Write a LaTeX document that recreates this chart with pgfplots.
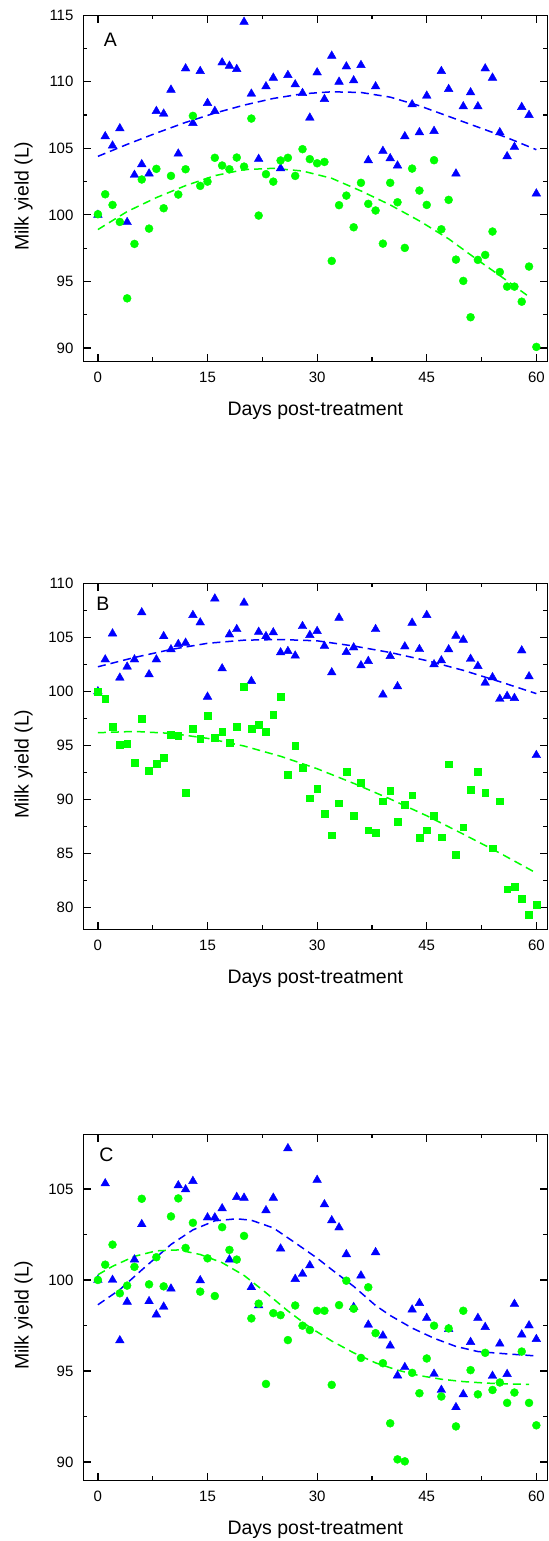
\documentclass[border=0pt]{standalone}
\usepackage{fontspec}
\setmainfont{Liberation Sans}
\usepackage{pgfplots}
\usepackage{pgfplotstable}
\pgfplotsset{compat=1.18}

\definecolor{cblue}{RGB}{0,0,255}
\definecolor{cgreen}{RGB}{0,255,0}

% day, blue series, green series
\pgfplotstableread{
day blue green
0 100.0 100.05
1 105.9 101.55
2 105.2 100.75
3 106.5 99.47
4 99.45 93.73
5 103.0 97.82
6 103.8 102.66
7 103.1 98.97
8 107.8 103.46
9 107.6 100.5
10 109.4 102.93
11 104.6 101.53
12 111.0 103.43
13 106.9 107.44
14 110.8 102.18
15 108.4 102.5
16 107.8 104.29
17 111.45 103.71
18 111.2 103.43
19 110.95 104.31
20 114.5 103.63
21 109.1 107.24
22 104.2 99.95
23 109.65 103.06
24 110.3 102.5
25 103.5 104.09
26 110.5 104.29
27 109.8 102.93
28 109.15 104.94
29 107.3 104.19
30 110.7 103.88
31 108.7 103.98
32 111.95 96.54
33 110.0 100.73
34 111.15 101.45
35 110.1 99.07
36 111.25 102.41
37 104.1 100.83
38 109.65 100.33
39 104.8 97.84
40 104.25 102.41
41 103.7 100.95
42 105.9 97.52
43 108.3 103.48
44 106.2 101.83
45 108.95 100.75
46 106.3 104.11
47 110.8 98.92
48 109.45 101.13
49 103.1 96.64
50 108.15 95.04
51 109.2 92.31
52 108.15 96.62
53 111.0 96.99
54 110.3 98.75
55 106.2 95.71
56 104.4 94.61
57 105.1 94.61
58 108.1 93.48
59 107.5 96.12
60 101.6 90.08
}\dataA

\pgfplotstableread{
day blue green
0 100.0 100.0
1 102.95 99.32
2 105.35 96.77
3 101.26 95.05
4 102.28 95.2
5 102.95 93.42
6 107.3 97.45
7 101.57 92.65
8 102.95 93.3
9 105.1 93.9
10 103.88 95.97
11 104.37 95.9
12 104.49 90.6
13 107.05 96.58
14 106.37 95.66
15 99.5 97.78
16 108.58 95.72
17 102.12 96.3
18 105.26 95.23
19 105.75 96.77
20 108.2 100.46
21 100.95 96.58
22 105.5 96.9
23 105.1 96.28
24 105.45 97.88
25 103.6 99.48
26 103.72 92.28
27 103.3 94.98
28 106.03 92.92
29 105.2 90.12
30 105.57 91.0
31 104.2 88.7
32 101.75 86.7
33 106.8 89.66
34 103.63 92.6
35 104.06 88.5
36 102.4 91.57
37 102.8 87.17
38 105.75 86.9
39 99.7 89.85
40 103.26 90.8
41 100.46 87.97
42 104.15 89.5
43 106.34 90.4
44 103.9 86.46
45 107.05 87.17
46 102.5 88.5
47 102.86 86.52
48 103.88 93.26
49 105.14 84.92
50 104.77 87.45
51 103.0 90.9
52 102.34 92.6
53 100.8 90.6
54 101.3 85.5
55 99.3 89.85
56 99.57 81.7
57 99.38 81.97
58 103.78 80.8
59 101.38 79.32
60 94.1 80.3
}\dataB

\pgfplotstableread{
day blue green
0 100.0 100.0
1 105.3 100.84
2 100.0 101.94
3 96.68 99.27
4 98.8 99.69
5 101.12 100.72
6 103.06 104.46
7 98.83 99.76
8 98.1 101.25
9 98.53 99.65
10 99.52 103.49
11 105.19 104.48
12 104.97 101.76
13 105.43 103.14
14 99.98 99.36
15 103.43 101.19
16 103.43 99.12
17 103.93 102.9
18 101.12 101.65
19 104.55 101.12
20 104.51 102.42
21 99.6 97.89
22 98.6 98.7
23 103.82 94.29
24 104.51 98.18
25 101.72 98.07
26 107.23 96.7
27 100.05 98.6
28 100.33 97.49
29 100.8 97.25
30 105.49 98.31
31 104.15 98.31
32 103.27 94.24
33 102.88 98.62
34 101.41 99.96
35 98.51 98.42
36 100.24 95.72
37 97.54 99.6
38 101.52 97.08
39 96.94 95.43
40 96.39 92.13
41 94.75 90.15
42 95.21 90.04
43 98.37 94.9
44 98.73 93.78
45 97.91 95.69
46 94.84 97.49
47 93.96 93.6
48 97.3 97.34
49 93.01 91.96
50 93.72 98.31
51 96.59 95.05
52 97.91 93.72
53 97.41 96.0
54 94.73 93.96
55 96.5 94.37
56 94.83 93.25
57 98.68 93.82
58 97.0 96.07
59 97.5 93.25
60 96.75 92.02
}\dataC

\pgfplotsset{
  panel/.style={
    scale only axis, width=232pt, height=173pt, anchor=south west,
    xmin=-2, xmax=61.5,
    xtick={0,15,30,45,60}, minor x tick num=1, minor y tick num=1,
    tick align=inside, tick pos=both,
    major tick length=3.75pt, minor tick length=2pt,
    axis line style={line width=0.65pt},
    every tick/.style={black, line width=0.6pt},
    /pgf/number format/assume math mode=true,
    ticklabel style={font=\fontsize{7.5}{9}\selectfont},
    label style={font=\fontsize{9.75}{11.5}\selectfont},
    xlabel={Days post-treatment}, ylabel={Milk yield (L)},
    xlabel style={at={(axis description cs:0.5,-0.158)}, anchor=base},
    ylabel style={at={(axis description cs:-0.1177,0.477)}, anchor=base},
    yticklabel style={xshift=-1.4pt},
    xticklabel style={yshift=-1.85pt},
  },
  tri/.style={only marks, mark=triangle*, mark size=2.5pt,
    mark options={draw=cblue, fill=cblue, line width=0.2pt}},
  dot/.style={only marks, mark=*, mark size=2pt,
    mark options={draw=cgreen, fill=cgreen, line width=0.2pt}},
  sq/.style={only marks, mark=square*, mark size=1.7pt,
    mark options={draw=cgreen, fill=cgreen, line width=0.2pt}},
  fit/.style={no marks, line width=0.75pt, dash pattern=on 4pt off 2.5pt},
}

\begin{document}
\begin{tikzpicture}
\useasboundingbox (0,0) rectangle (274pt,770.5pt);

% Panel A
\begin{axis}[panel, at={(41.65pt,589.85pt)},
  ymin=89, ymax=115, ytick={90,95,100,105,110,115}]
\addplot[tri] table[x=day, y=blue] {\dataA};
\addplot[dot] table[x=day, y=green] {\dataA};
\addplot[fit, cblue] coordinates {(0,104.4) (4,105.3) (8,106.15) (12,106.95)
  (16,107.65) (20,108.25) (24,108.75) (28,109.1) (32,109.25) (36,109.2)
  (40,108.85) (44,108.2) (48,107.4) (52,106.6) (56,105.8) (60,104.9)};
\addplot[fit, cgreen] coordinates {(0,98.9) (4,100.25) (8,101.3) (12,102.2)
  (16,102.95) (20,103.4) (24,103.5) (28,103.3) (32,102.75) (36,101.8)
  (40,100.75) (44,99.55) (48,98.2) (52,96.6) (56,95.05) (59,93.85)};
\node[anchor=base west, font=\fontsize{9.75}{11.5}\selectfont]
  at (rel axis cs:0.0289,0.9104) {A};
\end{axis}

% Panel B
\begin{axis}[panel, at={(41.65pt,305.85pt)},
  ymin=78, ymax=110, ytick={80,85,90,95,100,105,110}]
\addplot[tri] table[x=day, y=blue] {\dataB};
\addplot[sq] table[x=day, y=green] {\dataB};
\addplot[fit, cblue] coordinates {(0,102.28) (5,103.14) (10,103.88) (15,104.45)
  (20,104.74) (25,104.8) (30,104.68) (35,104.2) (40,103.6) (45,102.85)
  (50,101.95) (55,100.9) (60,99.8)};
\addplot[fit, cgreen] coordinates {(0,96.18) (5,96.3) (10,96.12) (15,95.66)
  (20,94.95) (25,94.0) (30,92.85) (35,91.5) (40,90.05) (45,88.5)
  (50,86.8) (55,85.05) (60,83.2)};
\node[anchor=base west, font=\fontsize{9.75}{11.5}\selectfont]
  at (rel axis cs:0.0129,0.922) {B};
\end{axis}

% Panel C
\begin{axis}[panel, at={(41.65pt,30.35pt)},
  ymin=89, ymax=108, ytick={90,95,100,105}]
\addplot[tri] table[x=day, y=blue] {\dataC};
\addplot[dot] table[x=day, y=green] {\dataC};
\addplot[fit, cblue] coordinates {(0,98.64) (3,99.47) (6,100.55) (10,101.95)
  (13,102.75) (16,103.25) (19,103.36) (21,103.28) (24,102.86) (27,102.04)
  (30,101.2) (32,100.57) (35,99.65) (38,98.6) (40,98.05) (43,97.36)
  (46,96.8) (49,96.35) (52,96.07) (56,95.94) (60,95.83)};
\addplot[fit, cgreen] coordinates {(0,100.29) (2,100.75) (5,101.3) (8,101.6)
  (11,101.65) (14,101.4) (17,100.95) (20,100.25) (23,99.3) (26,98.3)
  (29,97.4) (32,96.65) (35,96.0) (38,95.45) (41,95.05) (44,94.75)
  (47,94.55) (50,94.42) (53,94.34) (56,94.29) (59,94.27)};
\node[anchor=base west, font=\fontsize{9.75}{11.5}\selectfont]
  at (rel axis cs:0.0194,0.92) {C};
\end{axis}
\end{tikzpicture}
\end{document}
